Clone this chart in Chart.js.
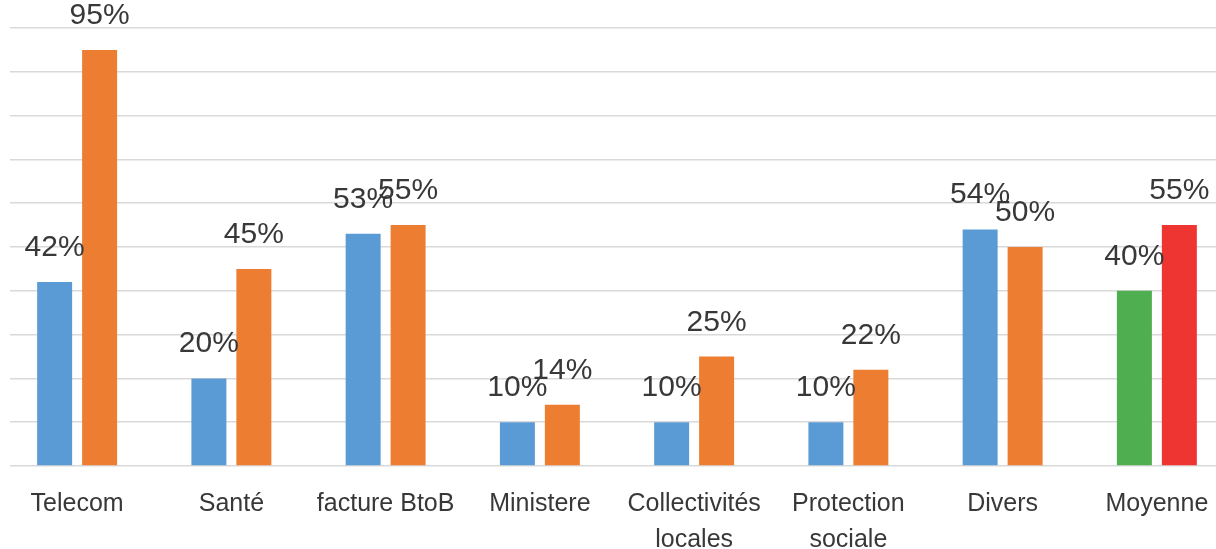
<!DOCTYPE html>
<html>
<head>
<meta charset="utf-8">
<script src="https://cdn.jsdelivr.net/npm/chart.js@4/dist/chart.umd.min.js"></script>
<style>
  html, body { margin: 0; padding: 0; background: #fff; overflow: hidden; }
  #wrap { position: relative; width: 1234px; height: 549px; }
</style>
</head>
<body>
<div id="wrap"><canvas id="chart"></canvas></div>
<script>
var categories = ['Telecom', 'Santé', 'facture BtoB', 'Ministere',
  ['Collectivités', 'locales'], ['Protection', 'sociale'], 'Divers', 'Moyenne'];
var serie1 = [42, 20, 53, 10, 10, 10, 54, 40];
var serie2 = [95, 45, 55, 14, 25, 22, 50, 55];

var BLUE = '#5b9bd5', ORANGE = '#ed7d31', GREEN = '#4fae50', RED = '#ee3532';
var TEXT = '#383838';

// last group (average) gets its own colours
function colours(base, last) {
  return categories.map(function(c, i) {
    return i === categories.length - 1 ? last : base;
  });
}

// gridlines begin a little to the right of the plot edge
var gridTrim = {
  id: 'gridTrim',
  beforeDatasetsDraw: function(chart) {
    var ctx = chart.ctx, area = chart.chartArea;
    ctx.save();
    ctx.fillStyle = '#fff';
    ctx.fillRect(0, area.top - 2, 10, area.bottom - area.top + 4);
    ctx.restore();
  }
};

// percentage above each bar
var valueLabels = {
  id: 'valueLabels',
  afterDatasetsDraw: function(chart) {
    var ctx = chart.ctx;
    ctx.save();
    ctx.font = '30px "Liberation Sans", Arial, sans-serif';
    ctx.fillStyle = TEXT;
    ctx.textAlign = 'center';
    ctx.textBaseline = 'alphabetic';
    chart.data.datasets.forEach(function(ds, di) {
      chart.getDatasetMeta(di).data.forEach(function(bar, i) {
        ctx.fillText(ds.data[i] + '%', bar.x, bar.y - 26);
      });
    });
    ctx.restore();
  }
};

new Chart(document.getElementById('chart'), {
  type: 'bar',
  data: {
    labels: categories,
    datasets: [
      { data: serie1, backgroundColor: colours(BLUE, GREEN) },
      { data: serie2, backgroundColor: colours(ORANGE, RED) }
    ]
  },
  options: {
    responsive: true,
    maintainAspectRatio: false,
    animation: false,
    categoryPercentage: 0.583,
    barPercentage: 0.778,
    layout: { padding: { top: 28, left: 0, right: 0, bottom: 0 } },
    plugins: { legend: { display: false }, tooltip: { enabled: false } },
    scales: {
      x: {
        grid: { display: false },
        border: { display: false },
        ticks: {
          color: TEXT,
          padding: 12,
          maxRotation: 0,
          autoSkip: false,
          font: { family: '"Liberation Sans", Arial, sans-serif', size: 25, lineHeight: 1.44 }
        },
        afterFit: function(scale) { scale.height = 83; }
      },
      y: {
        min: 0,
        max: 100,
        ticks: { display: false, stepSize: 10 },
        grid: { color: '#d9d9d9', lineWidth: 1.5, drawTicks: false },
        border: { display: false },
        afterFit: function(scale) { scale.width = 0; }
      }
    }
  },
  plugins: [gridTrim, valueLabels]
});
</script>
</body>
</html>
